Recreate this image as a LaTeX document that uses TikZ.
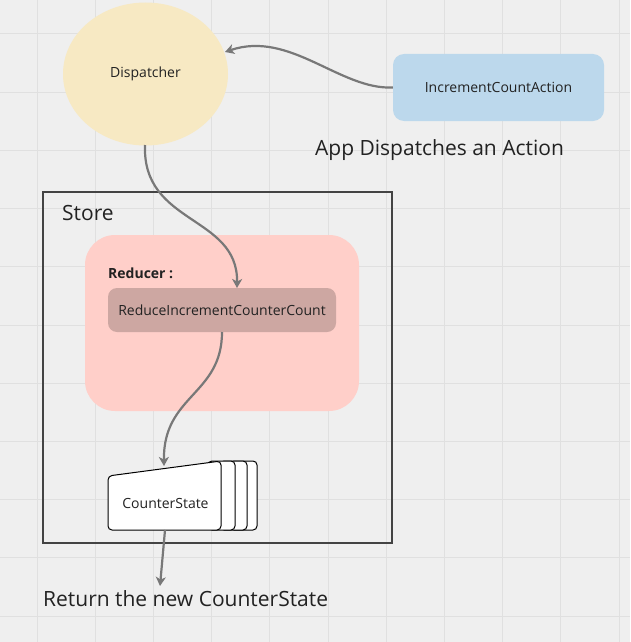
\documentclass[tikz,border=0pt]{standalone}
\usepackage{fontspec}
\setmainfont{Open Sans}
\usetikzlibrary{arrows.meta,shapes.geometric}
\definecolor{bgcol}{HTML}{EFEFEF}
\definecolor{gridcol}{HTML}{E0E0E0}
\definecolor{dispcol}{HTML}{F7E9C3}
\definecolor{actcol}{HTML}{BCD8EC}
\definecolor{redcol}{HTML}{FFCFC9}
\definecolor{fncol}{HTML}{CDA7A2}
\definecolor{arrcol}{HTML}{787878}
\definecolor{txtcol}{HTML}{222222}
\tikzset{
  conn/.style={draw=arrcol, line width=2.2pt, -{Stealth[length=9pt,width=10pt,inset=2.5pt]}},
  smalltxt/.style={font=\fontsize{14}{16}\selectfont, text=txtcol},
  bigtxt/.style={font=\fontsize{21}{25}\selectfont, text=txtcol, inner sep=0pt},
  card/.style={draw=black, fill=white, line width=1pt, rounded corners=4pt},
}
\begin{document}
\begin{tikzpicture}[x=1pt,y=-1pt]
\fill[bgcol] (0,0) rectangle (630,642);
\useasboundingbox (0,0) rectangle (630,642);
\foreach \i in {0,...,10} {
  \draw[gridcol, line width=1pt] ({37+58.2*\i},0) -- ({37+58.2*\i},642);
  \draw[gridcol, line width=1pt] (0,{34+58.2*\i}) -- (630,{34+58.2*\i});
}
% Dispatcher
\node[ellipse, fill=dispcol, minimum width=165pt, minimum height=143pt, inner sep=0pt, smalltxt] (disp) at (145.5,74) {Dispatcher};
% Action
\node[fill=actcol, rounded corners=11pt, minimum width=211pt, minimum height=67pt, smalltxt] (act) at (498.5,87.5) {IncrementCountAction};
\node[bigtxt, anchor=base] (apptxt) at (439.5,155) {App Dispatches an Action};
% Store
\node[draw=txtcol!85, line width=1.2pt, minimum width=349pt, minimum height=351pt, inner sep=0pt] (store) at (217.5,367.5) {};
\node[bigtxt, anchor=base west] (storetxt) at (62,220) {Store};
% Reducer
\node[fill=redcol, rounded corners=30pt, minimum width=274pt, minimum height=176pt, inner sep=0pt] (reducer) at (222,323) {};
\node[font=\fontsize{14}{16}\selectfont\bfseries, text=txtcol, inner sep=0pt, anchor=base west] (redtxt) at (108,278) {Reducer :};
\node[fill=fncol, rounded corners=9pt, minimum width=228pt, minimum height=44pt, inner sep=0pt, smalltxt] (fn) at (222,310) {ReduceIncrementCounterCount};
% CounterState stack
\draw[card] (230,461) rectangle (257,530);
\draw[card] (220,461) rectangle (247,530);
\draw[card] (208,461) rectangle (235,530);
\draw[card] (108,476) -- (108,530) -- (221,530) -- (221,461) -- cycle;
\node[smalltxt, inner sep=0pt] (cs) at (165.5,503) {CounterState};
\coordinate (cstop) at (164,466);
\coordinate (csbot) at (165,530);
\node[bigtxt, anchor=base west] (rettxt) at (43,606) {Return the new CounterState};
\coordinate (retpt) at (160,586);
% connectors
\coordinate (dtip) at (225,52);
\coordinate (dbot) at (145,145);
\coordinate (fntop) at (237,288);
\coordinate (fnbot) at (222,332);
\draw[conn] (act.west) .. controls (340,90) and (290,30) .. (dtip);
\draw[conn] (dbot) .. controls (142,225) and (238,215) .. (fntop);
\draw[conn] (fnbot) .. controls (222,395) and (163,395) .. (cstop);
\draw[conn] (csbot) -- (retpt);
\end{tikzpicture}
\end{document}
